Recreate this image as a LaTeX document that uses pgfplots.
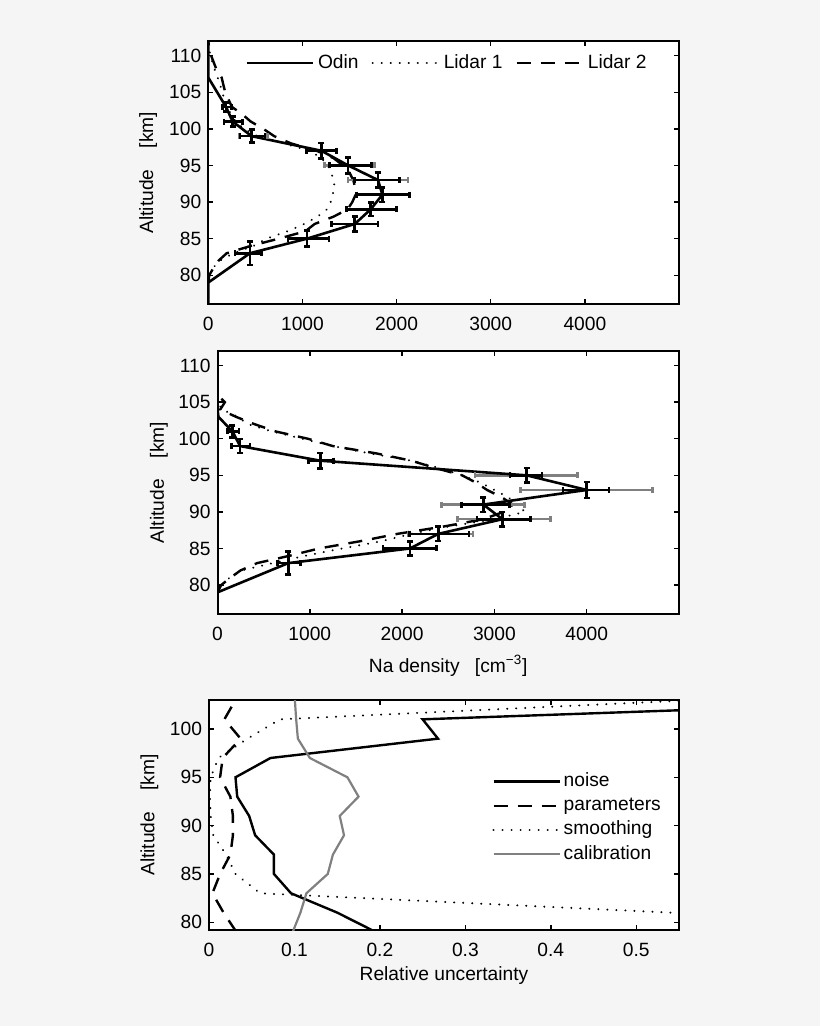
\documentclass[border=0pt]{standalone}
\usepackage{fontspec}
\setmainfont{Liberation Sans}
\usepackage{pgfplots}
\usepackage{pgfplotstable}
\pgfplotsset{compat=1.18}

\definecolor{bg}{RGB}{245,245,245}
\definecolor{calgray}{RGB}{128,128,128}

\newcommand{\lblfont}{\fontsize{9.6}{11}\selectfont}

% Odin error bars: altitude, density, minus/plus error, altitude error
\pgfplotstableread{
alt x em ep ey
83 442 159 124 1.6
85 1050 202 233 1.1
87 1556 248 247 1.0
89 1725 257 273 0.9
91 1849 275 290 1.0
93 1803 247 230 1.0
95 1485 195 248 1.1
97 1202 160 160 1.05
99 460 124 141 0.9
101 258 91 107 0.65
103 188 36 60 0.6
}\barsA
\pgfplotstableread{
alt x em ep
93 1803 318 318
95 1485 248 283
99 460 130 170
}\grayA
\pgfplotstableread{
alt x em ep ey
83 767 120 135 1.6
85 2085 290 290 0.95
87 2393 310 330 1.0
89 3087 277 303 1.0
91 2880 236 282 1.0
93 4000 258 240 1.1
95 3349 179 165 1.0
97 1113 130 145 1.07
99 245 92 105 0.95
101 162 55 70 0.85
}\barsB
\pgfplotstableread{
alt x em ep
87 2393 330 375
89 3087 484 518
91 2880 456 448
93 4000 714 716
95 3349 560 551
}\grayB

\pgfplotsset{
  matlab/.style={
    scale only axis,
    anchor=south west,
    axis background/.style={fill=white},
    axis line style={line width=1pt},
    tick align=inside,
    tick pos=both,
    major tick length=2.5pt,
    every tick/.style={black, line width=0.7pt},
    tick label style={font=\lblfont},
    label style={font=\lblfont},
    /pgf/number format/assume math mode=true,
    /pgf/number format/1000 sep={},
    xticklabel style={yshift=-3pt},
    legend image code/.code={\draw[##1] (0pt,0pt) -- (33pt,0pt);},
  },
  odin/.style={black, line width=1.3pt},
  lidarA/.style={black, line width=1.1pt, dash pattern=on 0.01pt off 4.5pt, line cap=round},
  lidarB/.style={black, line width=1.2pt, dash pattern=on 7pt off 5pt},
  blackbars/.style={draw=none, forget plot,
    error bars/x dir=both, error bars/x explicit,
    error bars/y dir=both, error bars/y explicit,
    error bars/error mark=none,
    error bars/error bar style={draw=black, line width=1.3pt, solid}},
  graybars/.style={draw=none, forget plot,
    error bars/x dir=both, error bars/x explicit,
    error bars/error mark=none,
    error bars/error bar style={draw=calgray, line width=1.2pt, solid}},
  capx/.style={only marks, forget plot, mark=|, mark size=1.5pt,
    mark options={solid, line width=1.3pt, draw=#1}},
  capy/.style={only marks, forget plot, mark=-, mark size=1.5pt,
    mark options={solid, line width=1.3pt, draw=#1}},
}

% bars with end caps, from a table with alt x em ep (ey)
\newcommand{\graycaps}[1]{%
  \addplot[graybars] table[x=x, y=alt, x error plus=ep, x error minus=em] {#1};
  \addplot[capx=calgray] table[x expr=\thisrow{x}-\thisrow{em}, y=alt] {#1};
  \addplot[capx=calgray] table[x expr=\thisrow{x}+\thisrow{ep}, y=alt] {#1};
}
\newcommand{\blackcaps}[1]{%
  \addplot[blackbars] table[x=x, y=alt, x error plus=ep, x error minus=em, y error=ey] {#1};
  \addplot[capx=black] table[x expr=\thisrow{x}-\thisrow{em}, y=alt] {#1};
  \addplot[capx=black] table[x expr=\thisrow{x}+\thisrow{ep}, y=alt] {#1};
  \addplot[capy=black] table[x=x, y expr=\thisrow{alt}-\thisrow{ey}] {#1};
  \addplot[capy=black] table[x=x, y expr=\thisrow{alt}+\thisrow{ey}] {#1};
}

\begin{document}
\begin{tikzpicture}
\fill[bg] (0,0) rectangle (410pt,513pt);

% ---------- top panel ----------
\begin{axis}[matlab,
  at={(104.15pt,360.75pt)}, width=235.35pt, height=131.75pt,
  xmin=0, xmax=5000, ymin=76, ymax=112,
  xtick={0,1000,...,4000}, ytick={80,85,...,110},
  ylabel={Altitude\hspace{1.1em}[km]},
  ylabel style={at={(axis description cs:-0.128,0.5)}, anchor=center},
  legend columns=-1,
  legend style={at={(0.078,0.9165)}, anchor=west, draw=none, fill=none,
    inner sep=0pt, font=\lblfont,
    /tikz/every even column/.append style={column sep=4.5pt}},
]
\addlegendimage{odin}\addlegendentry{Odin}
\addlegendimage{lidarA}\addlegendentry{Lidar 1}
\addlegendimage{lidarB}\addlegendentry{Lidar 2}

% Lidar 1
\addplot[lidarA, forget plot] table[x=x, y=alt] {
alt x
79 0
80 10
81 50
82 124
83 265
84 480
85 619
86 840
87 1020
88 1160
89 1260
90 1300
91 1320
92 1343
93 1330
94 1305
95 1270
96 1200
97 1078
98 800
99 520
100 380
101 290
102 240
103 200
104 170
105 150
106 125
107 100
108 70
109 45
110 25
111 5
112 0
};
% Lidar 2
\addplot[lidarB, forget plot] table[x=x, y=alt] {
alt x
79 0
80 10
81 55
82 110
83 195
84 450
85 750
86 1030
87 1130
88 1330
89 1480
90 1530
91 1565
92 1559
93 1540
94 1500
95 1430
96 1330
97 1150
98 880
99 700
100 583
101 450
102 360
103 250
104 215
105 180
106 160
107 142
108 90
109 60
110 30
111 10
112 0
};
\graycaps{\grayA}
% Odin
\addplot[odin, forget plot] table[x=x, y=alt] {
alt x
76 0
79 0
83 442
85 1050
87 1556
89 1725
91 1849
93 1803
95 1485
97 1202
99 460
101 258
103 188
107 0
112 0
};
\blackcaps{\barsA}
\end{axis}

% ---------- middle panel ----------
\begin{axis}[matlab,
  at={(108.75pt,205.85pt)}, width=230.75pt, height=131.65pt,
  xmin=0, xmax=5000, ymin=76, ymax=112,
  xtick={0,1000,...,4000}, ytick={80,85,...,110},
  ylabel={Altitude\hspace{1.1em}[km]},
  ylabel style={at={(axis description cs:-0.127,0.5)}, anchor=center},
  xlabel={Na density\hspace{0.8em}[cm\textsuperscript{\char"2212 3}]},
  xlabel style={at={(axis description cs:0.5,-0.22)}, anchor=base},
]
% Lidar 1
\addplot[lidarA] table[x=x, y=alt] {
alt x
79 0
80 60
81 130
82 260
83 600
84 950
85 1350
86 1780
87 2100
88 2500
89 3000
90 3330
91 3250
92 3150
93 3000
94 2850
95 2650
96 2400
97 2100
98 1650
99 1250
100 920
101 590
102 330
103 220
104 50
105 0
112 0
};
% Lidar 2
\addplot[lidarB] table[x=x, y=alt] {
alt x
79 0
80 40
81 140
82 250
83 430
84 780
85 1100
86 1550
87 1950
88 2450
89 2880
90 3100
91 3200
92 3080
93 2920
94 2800
95 2650
96 2360
97 2100
98 1720
99 1250
100 980
101 630
102 400
103 200
104 30
105 80
106 0
112 0
};
\graycaps{\grayB}
% Odin
\addplot[odin] table[x=x, y=alt] {
alt x
76 0
79 0
83 767
85 2085
87 2393
89 3087
91 2880
93 4000
95 3349
97 1113
99 245
101 162
103 10
104 0
112 0
};
\blackcaps{\barsB}
\end{axis}

% ---------- bottom panel ----------
\begin{axis}[matlab,
  at={(104.5pt,48pt)}, width=235pt, height=115pt,
  xmin=0, xmax=0.55, ymin=79.2, ymax=103,
  xtick={0,0.1,...,0.5}, ytick={80,85,...,100},
  ylabel={Altitude\hspace{1.1em}[km]},
  ylabel style={at={(axis description cs:-0.127,0.5)}, anchor=center},
  xlabel={Relative uncertainty},
  xlabel style={at={(axis description cs:0.5,-0.22)}, anchor=base},
  legend cell align=left,
  legend style={at={(0.602,0.698)}, anchor=north west, draw=none, fill=none,
    inner sep=0pt, font=\lblfont, row sep=0.3pt,
    nodes={text height=6.8pt, text depth=2pt, inner sep=1.5pt}},
]
\addplot[odin, line width=1.2pt] table[x=x, y=alt] {
alt x
79 0.195
81 0.150
83 0.096
85 0.076
87 0.076
89 0.054
91 0.047
93 0.033
95 0.031
97 0.072
99 0.268
101 0.250
103 0.890
};
\addlegendentry{noise}
\addplot[lidarB, line width=1.2pt] table[x=x, y=alt] {
alt x
79 0.032
81 0.017
83 0.004
85 0.013
87 0.025
89 0.028
91 0.028
93 0.025
95 0.013
97 0.016
99 0.037
101 0.018
103 0.031
};
\addlegendentry{parameters}
\addplot[lidarA] table[x=x, y=alt] {
alt x
81 0.540
83 0.060
85 0.031
87 0.020
89 0.005
91 0.002
93 0.001
95 0.002
97 0.011
99 0.045
101 0.083
103 0.570
};
\addlegendentry{smoothing}
\addplot[calgray, line width=1.1pt] table[x=x, y=alt] {
alt x
79 0.098
81 0.107
83 0.114
85 0.139
87 0.145
89 0.158
91 0.153
93 0.175
95 0.162
97 0.118
99 0.104
101 0.102
103 0.1005
};
\addlegendentry{calibration}
\end{axis}
\end{tikzpicture}
\end{document}
